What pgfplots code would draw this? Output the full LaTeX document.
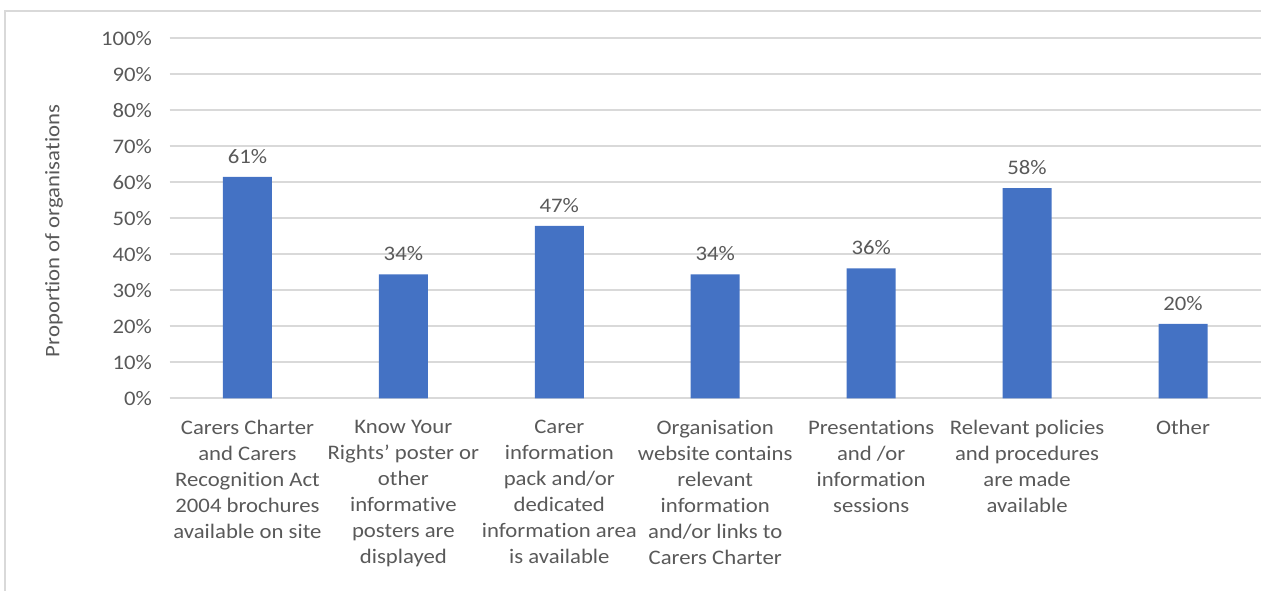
\documentclass[border=0pt]{standalone}
\usepackage{fontspec}
\setmainfont{Carlito}[FakeStretch=1.1, Ligatures=NoCommon]
\usepackage{pgfplots}
\pgfplotsset{compat=1.18}
\definecolor{barblue}{HTML}{4472C4}
\definecolor{txt}{HTML}{595959}
\definecolor{gridc}{HTML}{D9D9D9}
\newcommand{\lbl}{\fontsize{15.5}{19.5}\selectfont}
\begin{document}
\begin{tikzpicture}
\useasboundingbox (0pt,0pt) rectangle (945.75pt,443.25pt);
\draw[gridc, line width=1.1pt] (3.75pt,-5pt) -- (3.75pt,435pt) -- (950pt,435pt);
\begin{axis}[
  at={(127.125pt,144.525pt)}, anchor=south west,
  scale only axis, width=818.6pt, height=270pt,
  xmin=-0.5, xmax=6.5, ymin=0, ymax=100,
  ytick={0,10,...,100},
  yticklabel={\pgfmathprintnumber{\tick}\%},
  /pgf/number format/assume math mode=true,
  xtick={0,...,6},
  xticklabels={
    {Carers Charter\\and Carers\\Recognition Act\\2004 brochures\\available on site},
    {Know Your\\Rights’ poster or\\other\\informative\\posters are\\displayed},
    {Carer\\information\\pack and/or\\dedicated\\information area\\is available},
    {Organisation\\website contains\\relevant\\information\\and/or links to\\Carers Charter},
    {Presentations\\and /or\\information\\sessions},
    {Relevant policies\\and procedures\\are made\\available},
    {Other}},
  xticklabel style={align=center, anchor=north, font=\lbl, text=txt, inner sep=0pt, yshift=-16.5pt},
  yticklabel style={font=\lbl, text=txt, inner sep=0pt, anchor=east, xshift=-13pt},
  major tick length=0pt,
  axis line style={draw=none},
  ymajorgrids, grid style={gridc, line width=1.2pt},
  ylabel={Proportion of organisations},
  ylabel style={at={(axis description cs:-0.1057,0.4647)}, anchor=center, font=\lbl, text=txt},
  clip=false,
]
\addplot[ybar, bar width=36.75pt, fill=barblue, draw=none,
  point meta=explicit symbolic,
  nodes near coords, nodes near coords style={font=\lbl, text=txt, anchor=south, inner sep=0pt, yshift=10pt}]
  coordinates {(0,61.5) [61\%] (1,34.4) [34\%] (2,47.9) [47\%] (3,34.4) [34\%] (4,36.1) [36\%] (5,58.4) [58\%] (6,20.7) [20\%]};
\end{axis}
\end{tikzpicture}
\end{document}
